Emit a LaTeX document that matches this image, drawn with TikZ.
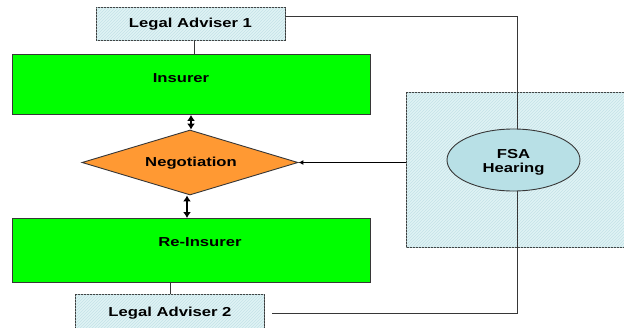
\documentclass[tikz,border=0pt]{standalone}
\usepackage{fontspec}
\usetikzlibrary{shapes.geometric,arrows.meta,patterns}
\newfontfamily\labfont[FakeStretch=1.28]{Liberation Sans}
\definecolor{boxline}{RGB}{55,55,55}
\definecolor{hatchbg}{RGB}{224,243,245}
\definecolor{hatchfg}{RGB}{196,226,231}
\definecolor{okgreen}{RGB}{0,255,0}
\definecolor{negorange}{RGB}{255,153,51}
\definecolor{fsablue}{RGB}{184,224,230}
\tikzset{
  lab/.style={font=\labfont\bfseries\fontsize{13}{14}\selectfont, text=black},
  advbox/.style={draw=boxline, line width=0.9pt, fill=hatchbg, postaction={pattern=north east lines, pattern color=hatchfg}, inner sep=0pt, anchor=north west},
  greenbox/.style={draw=boxline, line width=0.9pt, fill=okgreen, inner sep=0pt, anchor=north west},
  link/.style={draw=boxline, line width=0.9pt},
  dblarrow/.style={line width=2.6pt, {Latex[length=6pt,width=8pt]}-{Latex[length=6pt,width=8pt]}},
}
\begin{document}
\begin{tikzpicture}[x=1pt,y=-1pt]
\useasboundingbox (0,0) rectangle (624,327);
\fill[white] (0,0) rectangle (624,327);

% hatched hearing panel on the right
\node[advbox, minimum width=226pt, minimum height=155pt] (panel) at (406,92) {};

% boxes
\node[advbox, minimum width=189pt, minimum height=33pt] (la1) at (96,7) {};
\node[lab] at (190.5,24) {Legal Adviser 1};

\node[greenbox, minimum width=358pt, minimum height=60pt] (ins) at (12,54) {};
\node[lab] at (181,78) {Insurer};

\node[draw=boxline, line width=0.9pt, fill=negorange, diamond, inner sep=0pt,
      minimum width=216pt, minimum height=65pt] (neg) at (190,162.5) {};
\node[lab] at (191,163) {Negotiation};

\node[greenbox, minimum width=358pt, minimum height=64pt] (reins) at (12,218) {};
\node[lab] at (200,242) {Re-Insurer};

\node[advbox, minimum width=189pt, minimum height=40pt] (la2) at (75,294) {};
\node[lab] at (170,313) {Legal Adviser 2};

\node[draw=boxline, line width=0.9pt, fill=fsablue, ellipse, inner sep=0pt,
      minimum width=133pt, minimum height=62pt] (fsa) at (513.5,160) {};
\node[lab, align=center] at (513.5,162) {FSA\\Hearing};

% adviser links
\coordinate (a1out) at (285,16);
\coordinate (a1turn) at (517,16);
\draw[link] (a1out) -- (a1turn) -- (fsa.north -| a1turn);
\draw[link] (la1.south -| 194,0) -- (ins.north -| 194,0);

\coordinate (a2out) at (272,313);
\coordinate (a2turn) at (517,313);
\draw[link] (a2out) -- (a2turn) -- (fsa.south -| a2turn);
\draw[link] (reins.south -| la2.north) -- (la2.north);

% negotiation arrows
\draw[dblarrow] (ins.south -| 191,0) -- (neg.north -| 191,0);
\draw[dblarrow] (neg.south -| 187,0) -- (reins.north -| 187,0);
\draw[line width=1.6pt, -{Latex[length=5pt,width=5pt]}] (panel.west |- neg.east) -- (neg.east);
\end{tikzpicture}
\end{document}
